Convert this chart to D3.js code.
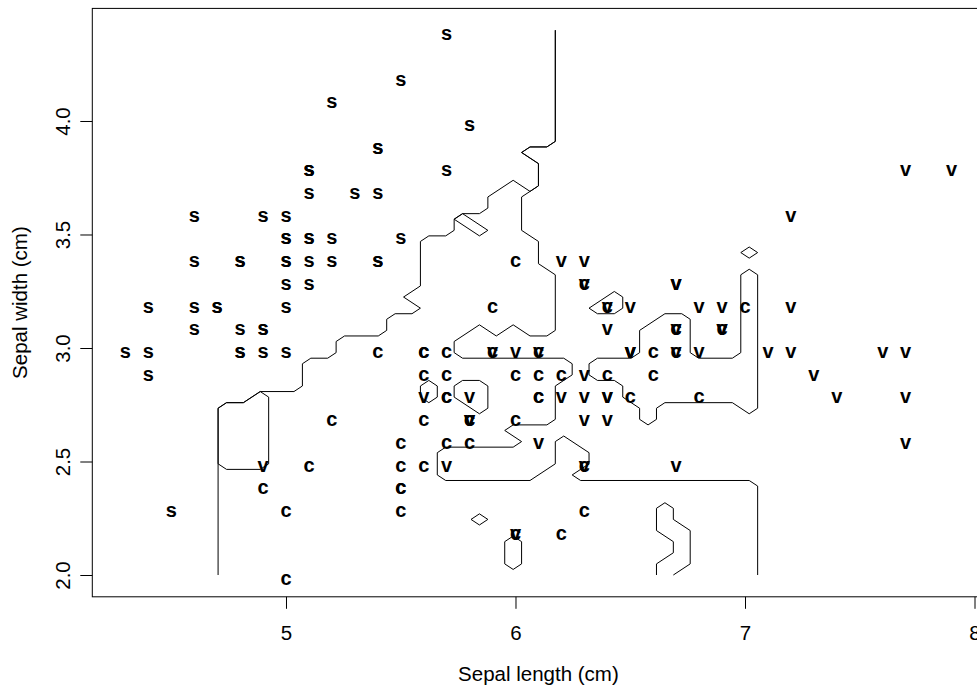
<!DOCTYPE html>
<html>
<head>
<meta charset="utf-8">
<script src="https://cdn.jsdelivr.net/npm/d3@7"></script>
<style>
body { margin: 0; background: #fff; }
text { font-family: "Liberation Sans", Arial, Helvetica, sans-serif; fill: #000; }
</style>
</head>
<body>
<svg id="chart" width="977" height="690"></svg>
<script>
// iris sepal measurements, one pair of arrays per species
var setosaLength = [5.1,4.9,4.7,4.6,5.0,5.4,4.6,5.0,4.4,4.9,5.4,4.8,4.8,4.3,5.8,5.7,5.4,5.1,5.7,5.1,5.4,5.1,4.6,5.1,4.8,5.0,5.0,5.2,5.2,4.7,4.8,5.4,5.2,5.5,4.9,5.0,5.5,4.9,4.4,5.1,5.0,4.5,4.4,5.0,5.1,4.8,5.1,4.6,5.3,5.0]
var setosaWidth = [3.5,3.0,3.2,3.1,3.6,3.9,3.4,3.4,2.9,3.1,3.7,3.4,3.0,3.0,4.0,4.4,3.9,3.5,3.8,3.8,3.4,3.7,3.6,3.3,3.4,3.0,3.4,3.5,3.4,3.2,3.1,3.4,4.1,4.2,3.1,3.2,3.5,3.6,3.0,3.4,3.5,2.3,3.2,3.5,3.8,3.0,3.8,3.2,3.7,3.3]
var versicolorLength = [7.0,6.4,6.9,5.5,6.5,5.7,6.3,4.9,6.6,5.2,5.0,5.9,6.0,6.1,5.6,6.7,5.6,5.8,6.2,5.6,5.9,6.1,6.3,6.1,6.4,6.6,6.8,6.7,6.0,5.7,5.5,5.5,5.8,6.0,5.4,6.0,6.7,6.3,5.6,5.5,5.5,6.1,5.8,5.0,5.6,5.7,5.7,6.2,5.1,5.7]
var versicolorWidth = [3.2,3.2,3.1,2.3,2.8,2.8,3.3,2.4,2.9,2.7,2.0,3.0,2.2,2.9,2.9,3.1,3.0,2.7,2.2,2.5,3.2,2.8,2.5,2.8,2.9,3.0,2.8,3.0,2.9,2.6,2.4,2.4,2.7,2.7,3.0,3.4,3.1,2.3,3.0,2.5,2.6,3.0,2.6,2.3,2.7,3.0,2.9,2.9,2.5,2.8]
var virginicaLength = [6.3,5.8,7.1,6.3,6.5,7.6,4.9,7.3,6.7,7.2,6.5,6.4,6.8,5.7,5.8,6.4,6.5,7.7,7.7,6.0,6.9,5.6,7.7,6.3,6.7,7.2,6.2,6.1,6.4,7.2,7.4,7.9,6.4,6.3,6.1,7.7,6.3,6.4,6.0,6.9,6.7,6.9,5.8,6.8,6.7,6.7,6.3,6.5,6.2,5.9]
var virginicaWidth = [3.3,2.7,3.0,2.9,3.0,3.0,2.5,2.9,2.5,3.6,3.2,2.7,3.0,2.5,2.8,3.2,3.0,3.8,2.6,2.2,3.2,2.8,2.8,2.7,3.3,3.2,2.8,3.0,2.8,3.0,2.8,3.8,2.8,2.8,2.6,3.0,3.4,3.1,3.0,3.1,3.1,3.1,2.7,3.2,3.3,3.0,2.5,3.0,3.4,3.0]
var speciesLabels = ["s", "c", "v"]

var xTicks = [5, 6, 7, 8]
var yTicks = [2.0, 2.5, 3.0, 3.5, 4.0]
var yTickLabels = ["2.0", "2.5", "3.0", "3.5", "4.0"]

// prediction grid used for the class boundaries (50 x 50 points)
var gridLength = [4.3, 7.9]
var gridWidth = [2.0, 4.4]
var gridSize = 50

// boundary lines, as [column, row] on the grid
var setosaBoundary = [[25.5,49],[25.5,39],[25,38.5],[24,38.5],[23.5,38],[24.5,37],[24.5,35],[24,34.5],[23,35.5],[21.5,34],[21.5,33],[21,32.5],[20,32.5],[19.5,32],[19.5,31],[19,30.5],[18,30.5],[17.5,30],[17.5,26],[16.5,25],[17.5,24],[17,23.5],[16,23.5],[15.5,23],[15.5,22],[15,21.5],[13,21.5],[12.5,21],[12.5,20],[12,19.5],[11,19.5],[10.5,19],[10.5,17],[10,16.5],[8,16.5],[7,15.5],[6,15.5],[5.5,15],[5.5,0]]
var virginicaBoundary = [[25.5,49],[25.5,39],[25,38.5],[24,38.5],[23.5,38],[24.5,37],[24.5,35],[24,34.5],[23.5,34],[23.5,31],[24.5,30],[24.5,28],[25.5,27],[25.5,22],[25,21.5],[24,21.5],[23,22.5],[22,21.5],[21,22.5],[19.5,21],[19.5,20],[20,19.5],[26,19.5],[26.5,19],[26.5,18],[25.5,17],[25.5,14],[25,13.5],[23,13.5],[22.5,13],[23.5,12],[23,11.5],[19,11.5],[18.5,11],[18.5,9],[19,8.5],[24,8.5],[25.5,10],[25.5,12],[26,12.5],[27.5,11],[27.5,10],[27,9.5],[26.5,9],[27,8.5],[37,8.5],[37.5,8],[37.5,0]]
var islandStrip = [[19.5,32],[20,32.5],[21.5,31],[21,30.5],[19.5,32]]
var islandBox = [[5.5,15],[6,15.5],[7,15.5],[8,16.5],[8.5,16],[8.5,10],[8,9.5],[6,9.5],[5.5,10],[5.5,15]]
var islandHexA = [[17.5,16],[17.5,17],[18,17.5],[18.5,17],[18.5,16],[18,15.5],[17.5,16]]
var islandHexB = [[19.5,17],[20,17.5],[21,17.5],[21.5,17],[21.5,15],[21,14.5],[19.5,16],[19.5,17]]
var islandDiamondA = [[36.5,29],[37,29.5],[37.5,29],[37,28.5],[36.5,29]]
var islandLarge = [[37,27.5],[37.5,27],[37.5,15],[37,14.5],[36,15.5],[32,15.5],[31.5,15],[31.5,14],[31,13.5],[30.5,14],[30.5,15],[30,15.5],[29.5,16],[29.5,17],[29,17.5],[28,17.5],[27.5,18],[27.5,19],[28,19.5],[30,19.5],[30.5,20],[30.5,22],[32,23.5],[33,23.5],[33.5,23],[33.5,20],[34,19.5],[36,19.5],[36.5,20],[36.5,27],[37,27.5]]
var islandPent = [[27.5,24],[29,25.5],[29.5,25],[29.5,24],[29,23.5],[28,23.5],[27.5,24]]
var islandDiamondB = [[20.5,5],[21,5.5],[21.5,5],[21,4.5],[20.5,5]]
var islandHexC = [[22.5,3],[23,3.5],[23.5,3],[23.5,1],[23,0.5],[22.5,1],[22.5,3]]
var bottomWave = [[31.5,0],[31.5,1],[32.5,2],[32.5,3],[31.5,4],[31.5,6],[32,6.5],[32.5,6],[32.5,5],[33.5,4],[33.5,1],[32.5,0]]

var boundaries = [setosaBoundary, virginicaBoundary, islandStrip, islandBox, islandHexA, islandHexB,
    islandDiamondA, islandLarge, islandPent, islandDiamondB, islandHexC, bottomWave]

var dimensions = {
    width: 977,
    height: 690,
    margin: { top: 8.4, right: -7.6, bottom: 93.2, left: 92.3 }
}
dimensions.boundedWidth = dimensions.width - dimensions.margin.left - dimensions.margin.right
dimensions.boundedHeight = dimensions.height - dimensions.margin.top - dimensions.margin.bottom

var points = []
var groups = [[setosaLength, setosaWidth], [versicolorLength, versicolorWidth], [virginicaLength, virginicaWidth]]
groups.forEach(function (g, k) {
    g[0].forEach(function (len, i) {
        points.push({ length: len, width: g[1][i], label: speciesLabels[k] })
    })
})

var svg = d3.select("#chart")

// R style 4% padding around the data range
var xScale = d3.scaleLinear()
    .domain([4.156, 8.044])
    .range([dimensions.margin.left, dimensions.margin.left + dimensions.boundedWidth])

var yScale = d3.scaleLinear()
    .domain([1.904, 4.496])
    .range([dimensions.margin.top + dimensions.boundedHeight, dimensions.margin.top])

var gridX = d3.scaleLinear().domain([0, gridSize - 1]).range(gridLength)
var gridY = d3.scaleLinear().domain([0, gridSize - 1]).range(gridWidth)

// plot box
svg.append("rect")
    .attr("x", dimensions.margin.left)
    .attr("y", dimensions.margin.top)
    .attr("width", dimensions.boundedWidth)
    .attr("height", dimensions.boundedHeight)
    .attr("fill", "none")
    .attr("stroke", "#000")
    .attr("stroke-width", 1)

// axes
var xAxis = svg.append("g")
    .attr("transform", "translate(0," + (dimensions.margin.top + dimensions.boundedHeight) + ")")
    .call(d3.axisBottom(xScale).tickValues(xTicks).tickFormat(d3.format("d")).tickSize(12).tickSizeOuter(0))
xAxis.select(".domain").remove()
xAxis.selectAll("text")
    .attr("y", 29)
    .attr("dy", "0.71em")
    .style("font-size", "20.5px")
    .style("font-family", '"Liberation Sans", Arial, sans-serif')

var yAxis = svg.append("g")
    .attr("transform", "translate(" + dimensions.margin.left + ",0)")
    .call(d3.axisLeft(yScale).tickValues(yTicks).tickFormat(function (d, i) { return yTickLabels[i] }).tickSize(12).tickSizeOuter(0))
yAxis.select(".domain").remove()
yAxis.selectAll("text")
    .attr("x", 0)
    .attr("dy", "0.36em")
    .attr("text-anchor", "middle")
    .attr("transform", "translate(-30,0) rotate(-90)")
    .style("font-size", "20.5px")
    .style("font-family", '"Liberation Sans", Arial, sans-serif')

//axis titles
svg.append("text")
    .attr("x", dimensions.margin.left + dimensions.boundedWidth / 2)
    .attr("y", 681)
    .attr("text-anchor", "middle")
    .style("font-size", "20.5px")
    .text("Sepal length (cm)")

svg.append("text")
    .attr("transform", "translate(22," + (dimensions.margin.top + dimensions.boundedHeight / 2) + ") rotate(-90)")
    .attr("dy", "0.26em")
    .attr("text-anchor", "middle")
    .style("font-size", "20.5px")
    .text("Sepal width (cm)")

// class boundaries
var line = d3.line()
    .x(d => xScale(gridX(d[0])))
    .y(d => yScale(gridY(d[1])))

svg.append("g")
    .selectAll("path")
    .data(boundaries)
    .enter()
    .append("path")
    .attr("d", line)
    .attr("fill", "none")
    .attr("stroke", "#000")
    .attr("stroke-width", 1)

// species letters
svg.append("g")
    .selectAll("text")
    .data(points)
    .enter()
    .append("text")
    .attr("x", d => xScale(d.length))
    .attr("y", d => yScale(d.width))
    .attr("dy", "0.5em")
    .attr("text-anchor", "middle")
    .style("font-size", "20px")
    .style("font-weight", "bold")
    .text(d => d.label)
</script>
</body>
</html>
